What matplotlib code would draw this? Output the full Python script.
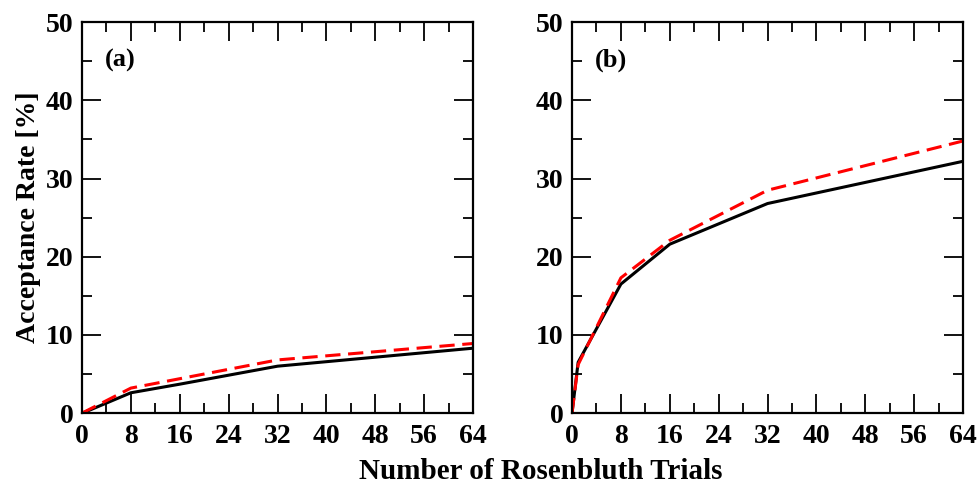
import matplotlib.pyplot as plt
from matplotlib.ticker import MultipleLocator

trials = [0, 1, 8, 16, 32, 64]

# panel (a)
a_solid = [0, 0.3, 2.6, 3.7, 6.0, 8.3]
a_dashed = [0, 0.4, 3.2, 4.4, 6.8, 8.9]

# panel (b)
b_solid = [0, 6.5, 16.5, 21.6, 26.8, 32.2]
b_dashed = [0, 6.2, 17.3, 22.1, 28.5, 34.8]

plt.rcParams['font.family'] = ['Liberation Serif', 'DejaVu Serif']
plt.rcParams['font.weight'] = 'bold'

fig = plt.figure(figsize=(9.79, 4.86), dpi=100)
ax1 = fig.add_axes([0.0838, 0.150, 0.3994, 0.8045])
ax2 = fig.add_axes([0.5843, 0.150, 0.3994, 0.8045])

for ax, s, d, lab in [(ax1, a_solid, a_dashed, '(a)'), (ax2, b_solid, b_dashed, '(b)')]:
    ax.plot(trials, s, color='black', lw=2.2)
    ax.plot(trials, d, color='red', lw=2.2, ls=(0, (5, 2.5)))
    ax.set_xlim(0, 64)
    ax.set_ylim(0, 50)
    ax.xaxis.set_major_locator(MultipleLocator(8))
    ax.xaxis.set_minor_locator(MultipleLocator(4))
    ax.yaxis.set_major_locator(MultipleLocator(10))
    ax.yaxis.set_minor_locator(MultipleLocator(5))
    ax.tick_params(which='both', direction='in', top=True, right=True, labelsize=20, width=1.3)
    ax.tick_params(which='major', length=13.5)
    ax.tick_params(which='minor', length=7)
    ax.tick_params(axis='x', which='major', pad=8)
    ax.tick_params(axis='y', which='major', pad=6)
    for sp in ax.spines.values():
        sp.set_linewidth(1.6)
    for t in ax.get_xticklabels() + ax.get_yticklabels():
        t.set_fontweight('bold')
    ax.text(0.058, 0.885, lab, transform=ax.transAxes, fontsize=19, fontweight='bold')

ax1.set_ylabel('Acceptance Rate [%]', fontsize=20, fontweight='bold', labelpad=4)
fig.text(0.552, 0.015, 'Number of Rosenbluth Trials', ha='center', fontsize=21, fontweight='bold')

fig.savefig('out.png', dpi=100)
